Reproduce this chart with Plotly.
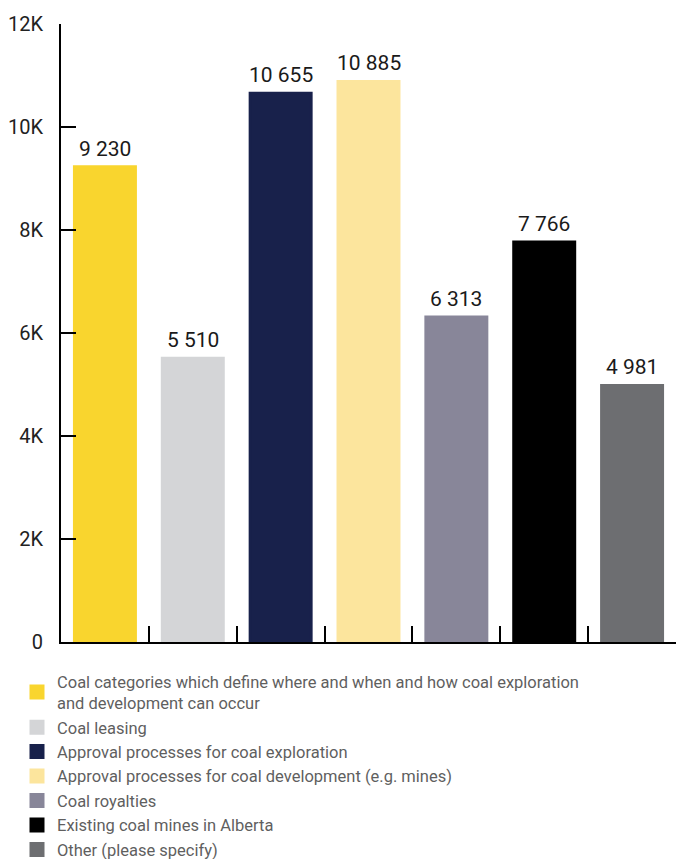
import plotly.graph_objects as go

categories = [
    "Coal categories which define where and when and how coal exploration<br>and development can occur",
    "Coal leasing",
    "Approval processes for coal exploration",
    "Approval processes for coal development (e.g. mines)",
    "Coal royalties",
    "Existing coal mines in Alberta",
    "Other (please specify)",
]
values = [9230, 5510, 10655, 10885, 6313, 7766, 4981]
colors = ["#F9D52E", "#D4D5D7", "#18214B", "#FCE59D", "#888699", "#000000", "#6D6E71"]
tick_vals = [0, 2000, 4000, 6000, 8000, 10000, 12000]
tick_text = ["0", "2K", "4K", "6K", "8K", "10K", "12K"]

W, H = 676, 859
L, R, T, B = 61, 0, 24, 0
axis_bottom_px = 642
paper_h = H - T - B
dom_lo = (H - B - axis_bottom_px) / paper_h

fig = go.Figure()
for i, (c, v, col) in enumerate(zip(categories, values, colors)):
    fig.add_trace(go.Bar(
        x=[i], y=[v], name=c,
        marker=dict(color=col, line=dict(width=3, color=col)),
        showlegend=True, hoverinfo="skip",
    ))
    fig.add_annotation(
        x=i, y=v, text=f"{v:,}".replace(",", " "), showarrow=False,
        yanchor="bottom", yshift=4, font=dict(size=21, color="#1a1a1a"),
    )

legend_left_px = 17
legend_top_px = 664
fig.update_layout(
    width=W, height=H,
    margin=dict(l=L, r=R, t=T, b=B, autoexpand=False),
    paper_bgcolor="white", plot_bgcolor="white",
    font=dict(family="Roboto", size=20, color="#222222"),
    barmode="overlay", bargap=0.306,
    legend=dict(
        orientation="v",
        x=(legend_left_px - L) / (W - L - R), xanchor="left",
        y=(H - B - legend_top_px) / paper_h, yanchor="top",
        font=dict(size=16.5, color="#5f5f5f"), traceorder="normal",
        itemclick=False, tracegroupgap=0, bgcolor="rgba(0,0,0,0)",
    ),
    showlegend=True,
)
fig.update_xaxes(
    range=[-0.5, 6.5], tickvals=[-0.5, 0.5, 1.5, 2.5, 3.5, 4.5, 5.5, 6.5],
    showticklabels=False, ticks="inside", ticklen=16, tickwidth=2, tickcolor="black",
    showline=True, linecolor="black", linewidth=2, showgrid=False, zeroline=False,
    fixedrange=True,
)
fig.update_yaxes(
    domain=[dom_lo, 1],
    range=[0, 12000], tickvals=tick_vals, ticktext=tick_text,
    ticks="inside", ticklen=15, tickwidth=2, tickcolor="black",
    showline=True, linecolor="black", linewidth=2, showgrid=False, zeroline=False,
    ticklabelstandoff=12, tickfont=dict(size=20, color="#222222"), fixedrange=True,
)

fig.write_html("out.html", config={"displayModeBar": False})
